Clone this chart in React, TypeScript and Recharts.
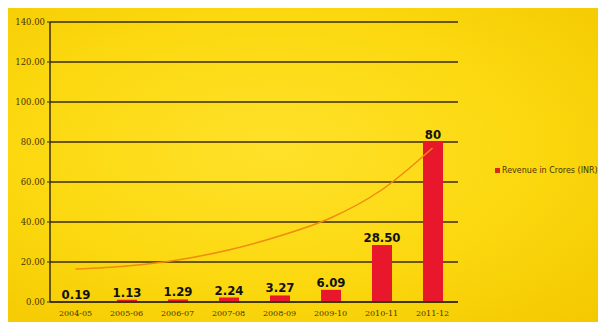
import React from 'react';
import {
  ComposedChart,
  Bar,
  Line,
  XAxis,
  YAxis,
  CartesianGrid,
  LabelList,
} from 'recharts';

const years = ['2004-05', '2005-06', '2006-07', '2007-08', '2008-09', '2009-10', '2010-11', '2011-12'];
const revenue = [0.19, 1.13, 1.29, 2.24, 3.27, 6.09, 28.5, 80];
const revenueLabels = ['0.19', '1.13', '1.29', '2.24', '3.27', '6.09', '28.50', '80'];
// trend line
const trend = [16.5, 18, 21, 26, 33, 42, 56, 77];
const yTicks = [0, 20, 40, 60, 80, 100, 120, 140];

const data = years.map((year, i) => ({
  year,
  revenue: revenue[i],
  label: revenueLabels[i],
  trend: trend[i],
}));

const gridColor = '#3a2c00';

const App = () => {
  return (
    <div
      style={{
        position: 'relative',
        width: 597,
        height: 314,
        marginLeft: -3,
        background: 'radial-gradient(ellipse at 45% 45%, #ffe12a 0%, #fbd80f 55%, #f4c800 100%)',
      }}
    >
      <ComposedChart width={597} height={314} data={data} margin={{ top: 14, right: 144, bottom: 2, left: 0 }}>
        <CartesianGrid vertical={false} stroke={gridColor} strokeWidth={1.5} />
        <XAxis
          dataKey="year"
          axisLine={{ stroke: gridColor, strokeWidth: 1.5 }}
          tickLine={false}
          height={18}
          tick={{ fontSize: 8, fill: '#4a3600', fontFamily: 'DejaVu Serif' }}
          interval={0}
        />
        <YAxis
          domain={[0, 140]}
          ticks={yTicks}
          width={45}
          axisLine={{ stroke: gridColor, strokeWidth: 1.5 }}
          tickLine={{ stroke: gridColor }}
          tickSize={3}
          tick={{ fontSize: 8.5, fill: '#4a3600', fontFamily: 'DejaVu Serif' }}
          tickFormatter={(v: number) => v.toFixed(2)}
        />
        <Bar dataKey="revenue" fill="#e8172b" barSize={20} isAnimationActive={false}>
          <LabelList
            dataKey="label"
            position="top"
            offset={3}
            style={{ fontSize: 13, fontWeight: 'bold', fill: '#111', fontFamily: 'DejaVu Sans Condensed' }}
          />
        </Bar>
        <Line
          type="monotone"
          dataKey="trend"
          stroke="#f08a10"
          strokeWidth={1.5}
          dot={false}
          isAnimationActive={false}
        />
      </ComposedChart>
      <div
        style={{
          position: 'absolute',
          left: 490,
          top: 158,
          display: 'flex',
          alignItems: 'center',
          fontSize: 8,
          color: '#4a3300',
          fontFamily: 'DejaVu Sans',
          whiteSpace: 'nowrap',
        }}
      >
        <span style={{ width: 5, height: 5, background: '#d8281a', marginRight: 2, display: 'inline-block' }} />
        Revenue in Crores (INR)
      </div>
    </div>
  );
};

export default App;
